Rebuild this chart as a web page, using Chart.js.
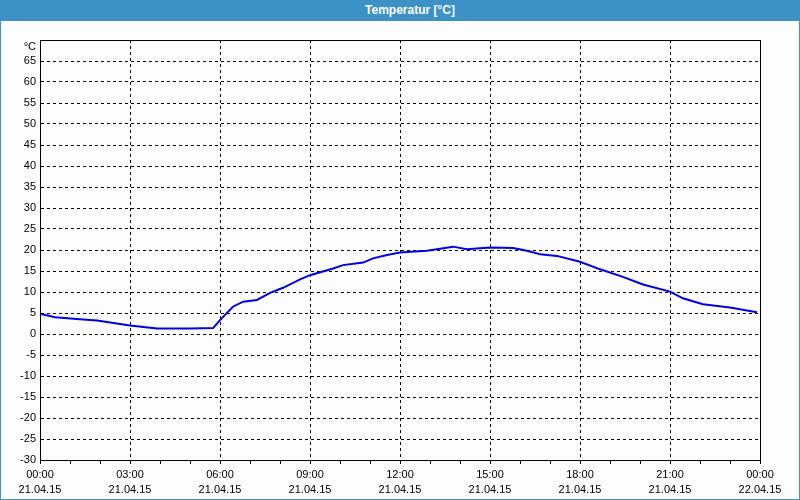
<!DOCTYPE html>
<html>
<head>
<meta charset="utf-8">
<script src="https://cdn.jsdelivr.net/npm/chart.js@4.4.0/dist/chart.umd.min.js"></script>
<style>
  html, body { margin: 0; padding: 0; }
  body { width: 800px; height: 500px; background: #fcfdfc; position: relative; overflow: hidden;
         font-family: "Liberation Sans", Arial, sans-serif; }
  #frame { position: absolute; left: 0; top: 0; width: 798px; height: 499px;
           border: 1px solid #3c91c6; border-top: none; }
  #title { position: absolute; left: 0; top: 0; width: 800px; height: 21px; box-sizing: border-box;
           padding-left: 20px; background: #3c91c6; color: #fff; font-weight: bold; font-size: 12px;
           line-height: 21px; text-align: center; }
  #wrap { position: absolute; left: 1px; top: 21px; width: 798px; height: 478px; }
</style>
</head>
<body>
<div id="frame"></div>
<div id="title">Temperatur [°C]</div>
<div id="wrap"><canvas id="tempChart"></canvas></div>
<script>
// ---- data ----
const HOURS = [0, 0.5, 1.33, 1.9, 3.0, 3.9, 4.5, 5.0, 5.77, 6.0, 6.43, 6.77, 7.23, 7.67, 8.1, 8.67,
               9.0, 9.77, 10.1, 10.77, 11.1, 11.57, 12.0, 12.9, 13.77, 14.23, 15.0, 15.77, 16.23,
               16.67, 17.23, 18.0, 18.67, 19.43, 20.1, 21.0, 21.43, 22.1, 23.0, 23.9];
const TEMPS = [4.8, 4.0, 3.5, 3.2, 2.0, 1.3, 1.3, 1.3, 1.4, 3.3, 6.5, 7.7, 8.1, 9.8, 11.0, 13.0,
               14.0, 15.6, 16.4, 17.0, 18.0, 18.8, 19.4, 19.8, 20.8, 20.2, 20.6, 20.5, 19.8,
               19.0, 18.6, 17.2, 15.4, 13.6, 11.8, 10.1, 8.5, 7.1, 6.3, 5.2];
const TICK_TIMES = ['00:00', '03:00', '06:00', '09:00', '12:00', '15:00', '18:00', '21:00', '00:00'];
const TICK_DATES = ['21.04.15', '21.04.15', '21.04.15', '21.04.15', '21.04.15', '21.04.15',
                    '21.04.15', '21.04.15', '22.04.15'];
const Y_MIN = -30, Y_MAX = 70, UNIT = '°C';

const FONT = { family: '"Liberation Sans", Arial, sans-serif', size: 11 };

// solid frame round the plot area
const frameBox = {
  id: 'frameBox',
  afterDatasetsDraw(chart) {
    const a = chart.chartArea, ctx = chart.ctx;
    ctx.save();
    ctx.strokeStyle = '#000'; ctx.lineWidth = 1;
    ctx.strokeRect(Math.round(a.left) + 0.5, Math.round(a.top) + 0.5,
                   Math.round(a.right - a.left), Math.round(a.bottom - a.top));
    ctx.restore();
  }
};

new Chart(document.getElementById('tempChart'), {
  type: 'line',
  data: {
    datasets: [{
      data: HOURS.map((h, i) => ({ x: h, y: TEMPS[i] })),
      borderColor: '#0000e6', borderWidth: 2, pointRadius: 0, tension: 0, fill: false
    }]
  },
  options: {
    responsive: true, maintainAspectRatio: false, animation: false,
    events: [],
    layout: { padding: { top: 19, right: 39, left: 0, bottom: 0 } },
    plugins: { legend: { display: false }, tooltip: { enabled: false } },
    scales: {
      x: {
        type: 'linear', min: 0, max: 24,
        afterFit: s => { s.height = 39; },
        ticks: {
          stepSize: 1, autoSkip: false, maxRotation: 0, padding: 3, color: '#000',
          font: { ...FONT, lineHeight: 15 / 11 },
          callback: v => (v % 3 === 0) ? [TICK_TIMES[v / 3], TICK_DATES[v / 3]] : ''
        },
        grid: {
          tickLength: 4, tickColor: '#000',
          color: c => (c.tick && c.tick.value % 3 === 0 && c.tick.value > 0 && c.tick.value < 24) ? '#000' : 'rgba(0,0,0,0)'
        },
        border: { display: true, color: '#000', dash: [3, 3] }
      },
      y: {
        min: Y_MIN, max: Y_MAX,
        afterFit: s => { s.width = 39; },
        ticks: {
          stepSize: 5, autoSkip: false, padding: 4, color: '#000', font: FONT,
          callback: v => v === Y_MAX ? ['', UNIT] : String(v)
        },
        grid: {
          drawTicks: false,
          color: c => (c.tick && c.tick.value > Y_MIN && c.tick.value < Y_MAX) ? '#000' : 'rgba(0,0,0,0)'
        },
        border: { display: true, color: '#000', dash: [3, 3] }
      }
    }
  },
  plugins: [frameBox]
});
</script>
</body>
</html>
